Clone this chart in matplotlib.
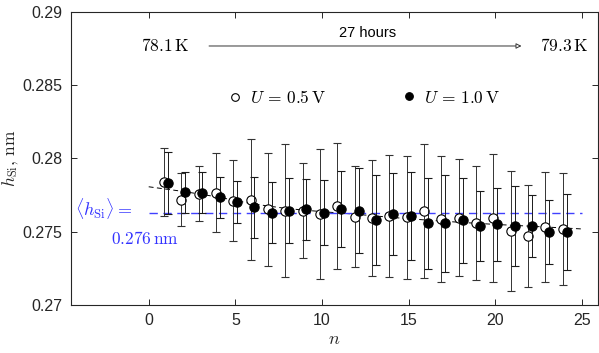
import matplotlib
matplotlib.use("Agg")
import matplotlib.pyplot as plt
import numpy as np
from matplotlib.ticker import FixedLocator, FuncFormatter
from matplotlib.lines import Line2D
from matplotlib.legend import Legend

plt.rcParams['mathtext.fontset'] = 'cm'
plt.rcParams['font.family'] = ['Liberation Sans', 'DejaVu Sans']

# ---- data ----
n = list(range(1, 25))
h_05 = [0.27842, 0.27717, 0.27758, 0.27767, 0.27712, 0.27719, 0.27653, 0.27644,
        0.27644, 0.27621, 0.27676, 0.27603, 0.27596, 0.27608, 0.27599, 0.27644,
        0.27587, 0.27596, 0.27562, 0.27596, 0.27505, 0.27471, 0.27535, 0.27519]
err_05 = [0.00233, 0.00181, 0.00188, 0.00271, 0.00276, 0.00413, 0.00384, 0.00452,
          0.00324, 0.00445, 0.00428, 0.00345, 0.00396, 0.00419, 0.00421, 0.00458,
          0.00428, 0.00399, 0.00390, 0.00437, 0.00408, 0.00345, 0.00376, 0.00383]
h_10 = [0.27831, 0.27769, 0.27765, 0.27735, 0.27703, 0.27667, 0.27630, 0.27644,
        0.27653, 0.27630, 0.27653, 0.27644, 0.27580, 0.27619, 0.27608, 0.27558,
        0.27558, 0.27580, 0.27539, 0.27551, 0.27539, 0.27539, 0.27500, 0.27500]
err_10 = [0.00213, 0.00142, 0.00140, 0.00140, 0.00140, 0.00210, 0.00210, 0.00220,
          0.00210, 0.00220, 0.00260, 0.00290, 0.00310, 0.00280, 0.00300, 0.00310,
          0.00330, 0.00290, 0.00240, 0.00250, 0.00270, 0.00210, 0.00220, 0.00260]
fit_n = [0, 2, 4, 6, 8, 10, 12, 14, 16, 18, 20, 22, 25]
fit_h = [0.27807, 0.27775, 0.27737, 0.27690, 0.27658, 0.27637, 0.27619, 0.27598,
         0.27580, 0.27564, 0.27550, 0.27538, 0.27519]
mean_h = 0.2763
mean_span = [0, 25]
yticks = [0.27, 0.275, 0.28, 0.285, 0.29]
xticks = [0, 5, 10, 15, 20, 25]
labels = [r'$U\,=\,0.5\,\mathrm{V}$', r'$U\,=\,1.0\,\mathrm{V}$']

fig = plt.figure(figsize=(5.99, 3.53), dpi=100)
ax = fig.add_axes([0.118, 0.136, 0.880, 0.830])

axcol = '0.15'
n_arr = np.array(n, dtype=float)

ax.plot(fit_n, fit_h, color='k', ls=(0, (5, 3.5)), lw=0.7, zorder=2)
ax.plot(mean_span, [mean_h, mean_h], color=(0.25, 0.25, 1.0), ls=(0, (6, 4)), lw=1.0, zorder=2)

ax.errorbar(n_arr - 0.12, h_05, yerr=err_05, fmt='o', ms=6.7, mfc='white', mec='k',
            mew=0.8, ecolor='0.2', elinewidth=0.7, capsize=3, capthick=0.7, zorder=3)
ax.errorbar(n_arr + 0.10, h_10, yerr=err_10, fmt='o', ms=6.7, mfc='k', mec='k',
            mew=0.8, ecolor='0.1', elinewidth=0.7, capsize=3, capthick=0.7, zorder=4)

ax.set_xlim(-4.5, 25.9)
ax.set_ylim(0.27, 0.29)
ax.xaxis.set_major_locator(FixedLocator(xticks))
ax.yaxis.set_major_locator(FixedLocator(yticks))
ax.yaxis.set_major_formatter(FuncFormatter(lambda v, p: f"{v:g}"))
ax.tick_params(direction='in', length=4, width=0.7, top=True, right=True,
               labelsize=11.5, colors=axcol, pad=6)
for s in ax.spines.values():
    s.set_color(axcol)
    s.set_linewidth(0.8)

ax.set_xlabel(r'$n$', fontsize=13, color=axcol, labelpad=2)
ax.set_ylabel(r'$h_{\mathrm{Si}},\,\mathrm{nm}$', fontsize=12.5, color=axcol)
ax.yaxis.set_label_coords(-0.095, 0.5)

# annotations
ax.text(0.94, 0.28768, r'$78.1\,\mathrm{K}$', fontsize=12.5, ha='center', va='center')
ax.text(23.96, 0.28768, r'$79.3\,\mathrm{K}$', fontsize=12.5, ha='center', va='center')
ax.text(12.6, 0.28860, '27 hours', fontsize=10.5, ha='center', va='center')
ax.annotate('', xy=(21.5, 0.28768), xytext=(3.48, 0.28768),
            arrowprops=dict(arrowstyle='-|>', lw=0.7, edgecolor='0.2', facecolor='white',
                            mutation_scale=8, shrinkA=0, shrinkB=0))

blue = (0.2, 0.2, 1.0)
ax.text(-2.6, 0.27662, r'$\langle h_{\mathrm{Si}}\rangle =$', fontsize=13, color=blue,
        ha='center', va='center')
ax.text(-0.2, 0.27457, r'$0.276\,\mathrm{nm}$', fontsize=12.5, color=blue,
        ha='center', va='center')

# legend entries (two separate legends placed like the reference)
h_open = Line2D([], [], ls='none', marker='o', ms=5.5, mfc='white', mec='k', mew=0.8)
h_fill = Line2D([], [], ls='none', marker='o', ms=5.5, mfc='k', mec='k', mew=0.8)
for handle, lab, x0 in [(h_open, labels[0], 4.5), (h_fill, labels[1], 14.5)]:
    lg = Legend(ax, [handle], [lab], loc='center left', bbox_to_anchor=(x0, 0.28416),
                bbox_transform=ax.transData, frameon=False, fontsize=12.5,
                handlelength=1.0, handletextpad=0.35, borderpad=0, borderaxespad=0)
    ax.add_artist(lg)

fig.savefig('out.png', dpi=100)
